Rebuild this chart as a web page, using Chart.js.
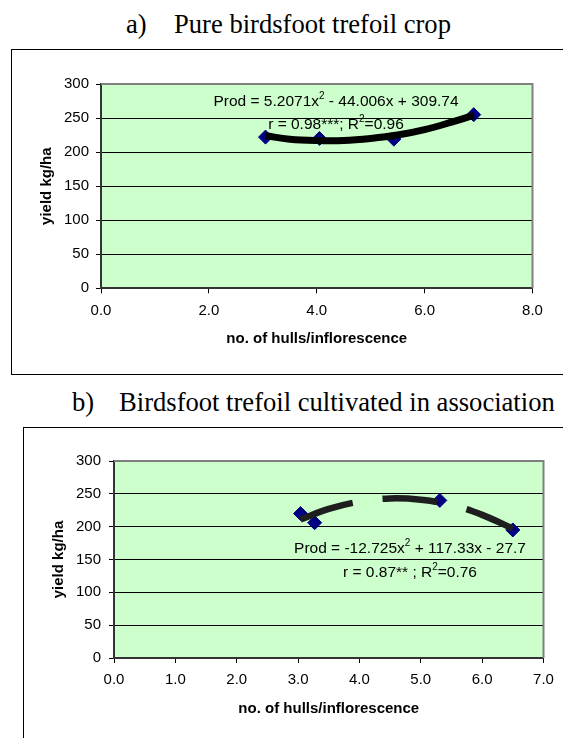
<!DOCTYPE html>
<html>
<head>
<meta charset="utf-8">
<script src="https://cdn.jsdelivr.net/npm/chart.js@4.4.1/dist/chart.umd.min.js"></script>
<style>
  html, body { margin: 0; padding: 0; background: #fff; overflow: hidden; width: 563px; height: 738px; }
  .frame { position: absolute; border: 1px solid #000; box-sizing: border-box; }
  .ttl { position: absolute; font-family: "Liberation Serif", "Times New Roman", serif; font-size: 26.6px; line-height: 26px; color: #000; white-space: nowrap; }
  canvas { position: absolute; }
</style>
</head>
<body>
<div class="ttl" style="left:126px; top:11px;">a)</div>
<div class="ttl" style="left:174px; top:11px;">Pure birdsfoot trefoil crop</div>
<div class="frame" style="left:11px; top:49px; width:700px; height:326px;"></div>
<canvas id="chartA" width="551" height="323" style="left:12px; top:50px;"></canvas>

<div class="ttl" style="left:72px; top:389px;">b)</div>
<div class="ttl" style="left:119px; top:389px;">Birdsfoot trefoil cultivated in association</div>
<div class="frame" style="left:23px; top:427px; width:700px; height:400px;"></div>
<canvas id="chartB" width="539" height="310" style="left:24px; top:428px;"></canvas>

<script>
// ---------- donnees ----------
// a) culture pure
const hullsA = [3.05, 4.05, 5.43, 6.91];
const yieldA = [222, 220, 219, 255];
const trendXA = [3.05, 3.5, 4.0, 4.5, 5.0, 5.5, 6.0, 6.5, 6.91];
const trendYA = [224, 219, 217, 217, 220, 225, 233, 244, 254];
const xMaxA = 8, xStepA = 2;

// b) culture en association
const hullsB = [3.04, 3.27, 5.31, 6.50];
const yieldB = [220, 206, 240, 195];
const trendXB = [3.04, 3.5, 4.0, 4.5, 5.0, 5.5, 6.0, 6.5];
const trendYB = [211, 227, 238, 243, 241, 233, 218, 197];
const xMaxB = 7, xStepB = 1;

const yMax = 300, yStep = 50;
const xTitle = "no. of hulls/inflorescence";
const yTitle = "yield kg/ha";

// equations (texte, exposant)
const eqA1 = [["Prod = 5.2071x", 0], ["2", 1], [" - 44.006x + 309.74", 0]];
const eqA2 = [["r = 0.98***; R", 0], ["2", 1], ["=0.96", 0]];
const eqB1 = [["Prod = -12.725x", 0], ["2", 1], [" + 117.33x - 27.7", 0]];
const eqB2 = [["r = 0.87** ; R", 0], ["2", 1], ["=0.76", 0]];

const SANS = '"Liberation Sans", Arial, sans-serif';
Chart.defaults.font.family = SANS;
Chart.defaults.font.size = 15;
Chart.defaults.color = "#000";

function toPts(xs, ys) {
  return xs.map((x, i) => ({ x: x, y: ys[i] }));
}

function drawEq(ctx, parts, cx, cy) {
  let total = 0;
  parts.forEach(p => {
    ctx.font = p[1] ? "10px " + SANS : "15.5px " + SANS;
    total += ctx.measureText(p[0]).width;
  });
  let x = cx - total / 2;
  ctx.textAlign = "left";
  ctx.textBaseline = "middle";
  ctx.fillStyle = "#000";
  parts.forEach(p => {
    ctx.font = p[1] ? "10px " + SANS : "15.5px " + SANS;
    ctx.fillText(p[0], x, p[1] ? cy - 6 : cy);
    x += ctx.measureText(p[0]).width;
  });
}

// fond vert + cadre gris + equations
function plotDeco(eqs) {
  return {
    id: "deco",
    beforeDraw(chart) {
      const a = chart.chartArea, ctx = chart.ctx;
      ctx.save();
      ctx.fillStyle = "#CCFFCC";
      ctx.fillRect(a.left, a.top, a.right - a.left, a.bottom - a.top);
      ctx.restore();
    },
    beforeDatasetsDraw(chart) {
      const a = chart.chartArea, ctx = chart.ctx;
      ctx.save();
      ctx.strokeStyle = "#808080";
      ctx.lineWidth = 2;
      ctx.beginPath();
      ctx.moveTo(a.left, a.top);
      ctx.lineTo(a.right, a.top);
      ctx.lineTo(a.right, a.bottom);
      ctx.stroke();
      eqs.forEach(e => drawEq(ctx, e.parts, e.x, e.y));
      ctx.restore();
    }
  };
}

function makeChart(id, pts, trend, xMax, xStep, dims, eqs, dash) {
  return new Chart(document.getElementById(id), {
    type: "scatter",
    data: {
      datasets: [
        {
          data: trend,
          showLine: true,
          borderColor: dash ? "#1e1e1e" : "#000",
          borderWidth: dash ? 6.5 : 7,
          borderDash: dash || [],
          tension: 0.4,
          pointRadius: 0,
          fill: false
        },
        {
          data: pts,
          pointStyle: "rectRot",
          pointRadius: 7,
          pointBackgroundColor: "#000080",
          pointBorderColor: "#000080",
          pointBorderWidth: 1
        }
      ]
    },
    options: {
      responsive: false,
      animation: false,
      devicePixelRatio: 1,
      layout: { padding: { left: 0, top: dims.top, right: dims.right, bottom: dims.bottom } },
      plugins: { legend: { display: false }, tooltip: { enabled: false } },
      scales: {
        x: {
          type: "linear",
          min: 0, max: xMax,
          afterFit: s => { s.height = 60; },
          ticks: { stepSize: xStep, padding: dims.xPad, callback: v => v.toFixed(1), maxRotation: 0 },
          grid: { drawOnChartArea: false, drawTicks: true, tickLength: 5, tickColor: "#000" },
          border: { color: "#333", width: 2 },
          title: { display: true, text: xTitle, font: { size: 15, weight: "bold" }, padding: { top: 0, bottom: 0 } }
        },
        y: {
          min: 0, max: yMax,
          afterFit: s => { s.width = dims.left; },
          ticks: { stepSize: yStep, padding: dims.yPad },
          grid: { color: "#000", lineWidth: 1, tickLength: 5, tickColor: "#000" },
          border: { color: "#333", width: 2 },
          title: { display: true, text: yTitle, font: { size: 15, weight: "bold" }, padding: { top: dims.yTitlePad, bottom: 0 } }
        }
      }
    },
    plugins: [plotDeco(eqs)]
  });
}

makeChart("chartA", toPts(hullsA, yieldA), toPts(trendXA, trendYA), xMaxA, xStepA,
  { left: 89, top: 34, right: 30.5, bottom: 24.7, xPad: 9, yPad: 7, yTitlePad: 25.7 },
  [{ parts: eqA1, x: 324, y: 52 }, { parts: eqA2, x: 324, y: 75 }],
  null);

makeChart("chartB", toPts(hullsB, yieldB), toPts(trendXB, trendYB), xMaxB, xStepB,
  { left: 90, top: 33, right: 19.5, bottom: 20, xPad: 8, yPad: 8, yTitlePad: 26 },
  [{ parts: eqB1, x: 386, y: 121 }, { parts: eqB2, x: 386, y: 145 }],
  [55, 30]);
</script>
</body>
</html>
